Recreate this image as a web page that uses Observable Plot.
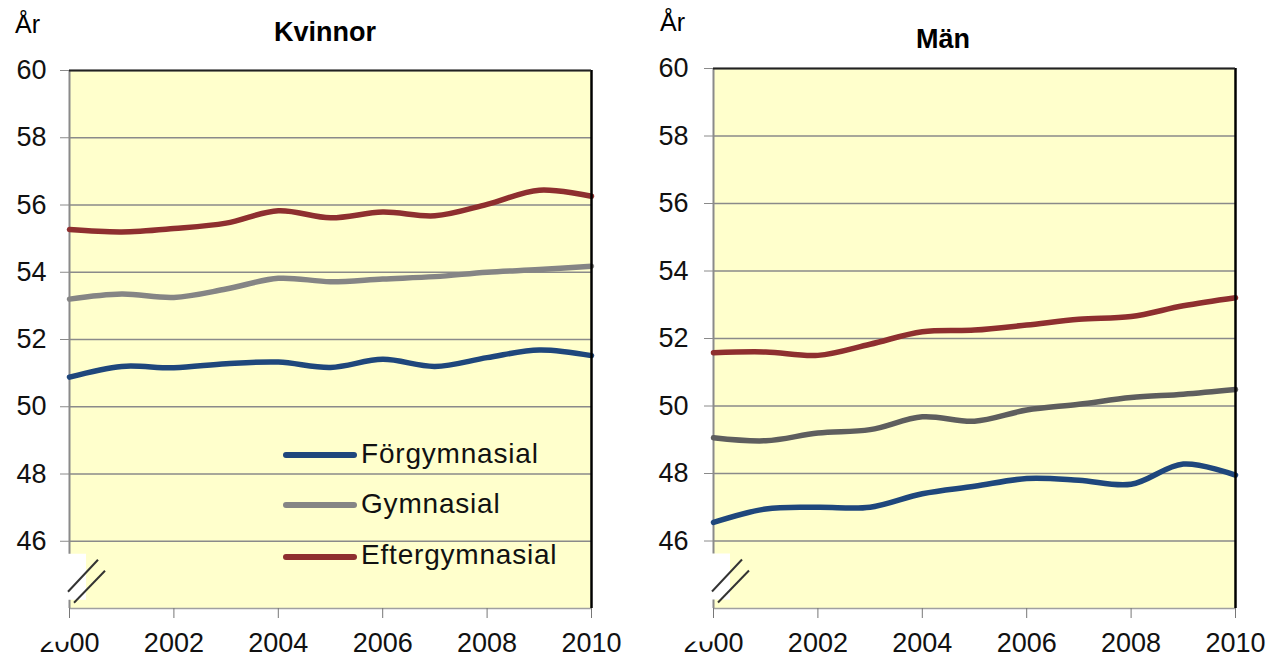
<!DOCTYPE html>
<html><head><meta charset="utf-8">
<script src="https://cdn.jsdelivr.net/npm/d3@7"></script>
<script src="https://cdn.jsdelivr.net/npm/@observablehq/plot@0.6"></script>
<style>
body{margin:0;background:#fff;font-family:"Liberation Sans",Arial,sans-serif;}
#wrap{position:relative;width:1272px;height:660px;display:flex;overflow:hidden;}
.panel{position:relative;width:636px;height:660px;}
.panel svg{position:absolute;left:0;top:0;}
.title{position:absolute;font-weight:bold;font-size:27px;line-height:1;transform:translateX(-50%);white-space:nowrap;color:#000;}
.ar{position:absolute;font-size:25px;line-height:1;color:#000;}
.lgline{position:absolute;height:6px;width:74px;border-radius:3px;}
.lgtext{position:absolute;font-size:28px;line-height:1;color:#111;white-space:nowrap;letter-spacing:0.8px;}
</style></head>
<body><div id="wrap"></div>
<script>
const years = [2000,2001,2002,2003,2004,2005,2006,2007,2008,2009,2010];
const seriesNames = ["Förgymnasial","Gymnasial","Eftergymnasial"];
const kvinnorFor  = [50.88,51.2,51.16,51.28,51.33,51.17,51.41,51.2,51.46,51.69,51.52];
const kvinnorGym  = [53.2,53.35,53.25,53.5,53.82,53.72,53.8,53.87,54.0,54.08,54.18];
const kvinnorEft  = [55.27,55.2,55.3,55.46,55.83,55.62,55.79,55.68,56.02,56.44,56.26];
const manFor      = [46.55,46.95,47.0,47.0,47.4,47.62,47.85,47.8,47.68,48.28,47.95];
const manGym      = [49.06,48.97,49.2,49.3,49.68,49.55,49.88,50.05,50.25,50.35,50.49];
const manEft      = [51.58,51.6,51.5,51.83,52.2,52.25,52.4,52.57,52.65,52.97,53.21];
const yTicks = [46,48,50,52,54,56,58,60];
const xTicks = [2000,2002,2004,2006,2008,2010];
const yDomain = [44,60];
const colorsLeft  = ["#1f477c","#858585","#8e2f2f"];
const colorsRight = ["#1f477c","#5e5e5e","#8e2f2f"];

function rowsOf(arrs){
  const out=[];
  arrs.forEach((arr,i)=>arr.forEach((v,j)=>out.push({year:years[j],value:v,series:seriesNames[i]})));
  return out;
}

function makePanel(cfg){
  const div=document.createElement("div");
  div.className="panel";
  const plot=Plot.plot({
    width:636,height:660,
    marginLeft:cfg.ml,marginRight:cfg.mr,marginTop:cfg.mt,marginBottom:cfg.mb,
    style:{fontFamily:'"Liberation Sans",Arial,sans-serif',fontSize:"27px",color:"#111",background:"transparent",overflow:"visible"},
    x:{domain:[years[0],years[years.length-1]]},
    y:{domain:yDomain},
    color:{domain:seriesNames,range:cfg.colors},
    marks:[
      Plot.frame({fill:"#ffffcc",stroke:null}),
      Plot.ruleY(yTicks,{stroke:"#8a8a8a",strokeWidth:1.6}),
      Plot.ruleY([yDomain[0]],{stroke:"#a0a0a0",strokeWidth:1.6}),
      Plot.ruleX([years[0]],{y1:yDomain[0],y2:yDomain[1],stroke:"#8a8a8a",strokeWidth:2}),
      Plot.line(rowsOf(cfg.data),{x:"year",y:"value",z:"series",stroke:"series",strokeWidth:5.5,curve:"catmull-rom",strokeLinecap:"round"}),
      Plot.ruleX([years[years.length-1]],{y1:yDomain[0],y2:yDomain[1],stroke:"#000",strokeWidth:2.5}),
      Plot.ruleY([yDomain[1]],{stroke:"#222",strokeWidth:2}),
      Plot.axisY(yTicks,{tickSize:9,tickPadding:cfg.ytp,label:null,stroke:"#8a8a8a",fill:"#111"}),
      Plot.axisX(xTicks,{tickSize:10,tickPadding:14,tickFormat:d=>String(d),label:null,stroke:"#777",fill:"#111"})
    ]
  });
  div.appendChild(plot);
  // axis break decoration
  const sx=plot.scale("x"), sy=plot.scale("y");
  const ax=sx.apply(years[0]), y46=sy.apply(yTicks[0]);
  const g=d3.select(plot).append("g");
  g.append("rect").attr("x",ax-3).attr("y",y46+13).attr("width",20).attr("height",46).attr("fill","#fff");
  g.append("rect").attr("x",ax-36).attr("y",y46+80).attr("width",37).attr("height",21).attr("fill","#fff");
  g.append("line").attr("x1",ax-1).attr("y1",y46+51).attr("x2",ax+29).attr("y2",y46+19).attr("stroke","#333").attr("stroke-width",2);
  g.append("line").attr("x1",ax+5).attr("y1",y46+62).attr("x2",ax+36).attr("y2",y46+30).attr("stroke","#333").attr("stroke-width",2);
  // title and unit
  const t=document.createElement("div");t.className="title";t.textContent=cfg.title;
  t.style.left=cfg.tx+"px";t.style.top=cfg.ty+"px";div.appendChild(t);
  const a=document.createElement("div");a.className="ar";a.textContent="År";
  a.style.left=cfg.ax+"px";a.style.top=cfg.ay+"px";div.appendChild(a);
  if(cfg.legend){
    const tops=[440,490,541], lys=[452,501.5,554];
    seriesNames.forEach((s,i)=>{
      const l=document.createElement("div");l.className="lgline";
      l.style.left="283px";l.style.top=lys[i]+"px";l.style.background=cfg.colors[i];div.appendChild(l);
      const tx=document.createElement("div");tx.className="lgtext";tx.textContent=s;
      tx.style.left="361px";tx.style.top=tops[i]+"px";div.appendChild(tx);
    });
  }
  return div;
}

const wrap=document.getElementById("wrap");
wrap.appendChild(makePanel({title:"Kvinnor",data:[kvinnorFor,kvinnorGym,kvinnorEft],colors:colorsLeft,
  ml:69,mr:45,mt:70,mb:52,ytp:14,tx:325,ty:19,ax:15,ay:12,legend:true}));
wrap.appendChild(makePanel({title:"Män",data:[manFor,manGym,manEft],colors:colorsRight,
  ml:77,mr:37,mt:68,mb:52,ytp:16,tx:307,ty:26,ax:24,ay:10,legend:false}));
</script>
</body></html>
